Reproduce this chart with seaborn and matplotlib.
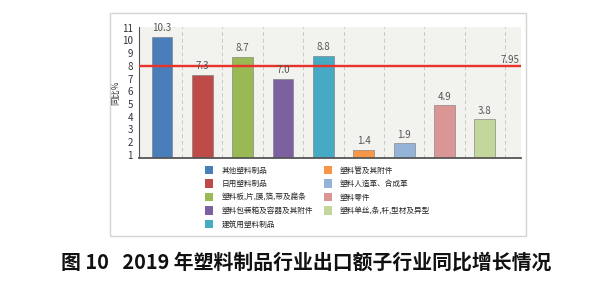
import matplotlib
matplotlib.use("Agg")
import matplotlib.pyplot as plt
import seaborn as sns
import pandas as pd
from matplotlib.patches import Patch, Rectangle

categories = ["其他塑料制品", "日用塑料制品", "塑料板,片,膜,箔,带及扁条", "塑料包装箱及容器及其附件",
              "建筑用塑料制品", "塑料管及其附件", "塑料人造革、合成革", "塑料零件", "塑料单丝,条,杆,型材及异型"]
values = [10.3, 7.3, 8.7, 7.0, 8.8, 1.4, 1.9, 4.9, 3.8]
value_labels = ["10.3", "7.3", "8.7", "7.0", "8.8", "1.4", "1.9", "4.9", "3.8"]
colors = ["#4a7ebb", "#be4b48", "#98b954", "#7d60a0", "#46aac5", "#f79646", "#95b3d7", "#d99694", "#c3d69b"]
average = 7.95
y_ticks = list(range(1, 12))
y_label = "同比%"
caption = "图 10   2019 年塑料制品行业出口额子行业同比增长情况"

sns.set_theme(style="white")
plt.rcParams['font.family'] = ['Noto Sans CJK SC', 'DejaVu Sans']

df = pd.DataFrame({"cat": categories, "val": values})

fig = plt.figure(figsize=(6.0, 2.82), dpi=100)
fig.patch.set_facecolor("white")
# outer frame
fig.patches.append(Rectangle((110 / 600, 1 - 236 / 282), (526 - 110) / 600, (236 - 13) / 282,
                             transform=fig.transFigure, fill=False, edgecolor="#d4d4d4", linewidth=1.0))

ax = fig.add_axes([139 / 600, 1 - 158 / 282, (521 - 139) / 600, (158 - 27) / 282])
ax.set_facecolor("#f2f2ee")

sns.barplot(data=df, x="cat", y="val", hue="cat", palette=colors, legend=False,
            width=0.52, ax=ax, edgecolor="#777777", linewidth=0.4, saturation=1)

ax.set_xlim(-0.57, 8.9)
ax.set_ylim(0.76, 11.05)

# vertical dashed grid at category boundaries
bounds = [i + 0.5 for i in range(len(categories) - 1)] + [8.5]
for b in bounds:
    ax.axvline(b, color="#c8c8c8", linestyle=(0, (4, 3)), linewidth=0.7, zorder=0)

ax.axhline(average, color="#e8322a", linewidth=1.7, zorder=3)
ax.text(8.85, average + 0.12, f"{average:.2f}", ha="right", va="bottom", fontsize=7, color="#555555")

for i, (v, lab) in enumerate(zip(values, value_labels)):
    ax.text(i, v + 0.28, lab, ha="center", va="bottom", fontsize=7, color="#555555")

ax.set_yticks(y_ticks)
ax.set_yticklabels([str(t) for t in y_ticks], fontsize=7, color="#333333")
ax.set_xticks(bounds)
ax.set_xticklabels([])
ax.tick_params(axis="x", length=4, color="#c8c8c8", width=0.6, direction="out")
ax.tick_params(axis="y", length=3, color="#555555", width=0.6, pad=1.5, direction="out")
ax.set_xlabel("")
ax.set_ylabel(y_label, fontsize=6, color="#333333", labelpad=1)

for s in ["top", "right"]:
    ax.spines[s].set_visible(False)
ax.spines["left"].set_color("#555555")
ax.spines["left"].set_linewidth(0.8)
ax.spines["bottom"].set_color("#555555")
ax.spines["bottom"].set_linewidth(1.3)

handles = [Patch(facecolor=c, edgecolor="none") for c in colors]
fig.legend(handles, categories, ncol=2, loc="upper left",
           bbox_to_anchor=(205 / 600, 1 - 166 / 282), frameon=False,
           fontsize=5.5, handlelength=1.05, handleheight=1.3, handletextpad=1.1,
           columnspacing=1.4, labelspacing=0.62, borderpad=0, borderaxespad=0)

fig.text(0.51, 1 - 262 / 282, caption, ha="center", va="center", fontsize=14.3, fontweight="bold", color="#111111")

fig.savefig("out.png", dpi=100, facecolor="white")
